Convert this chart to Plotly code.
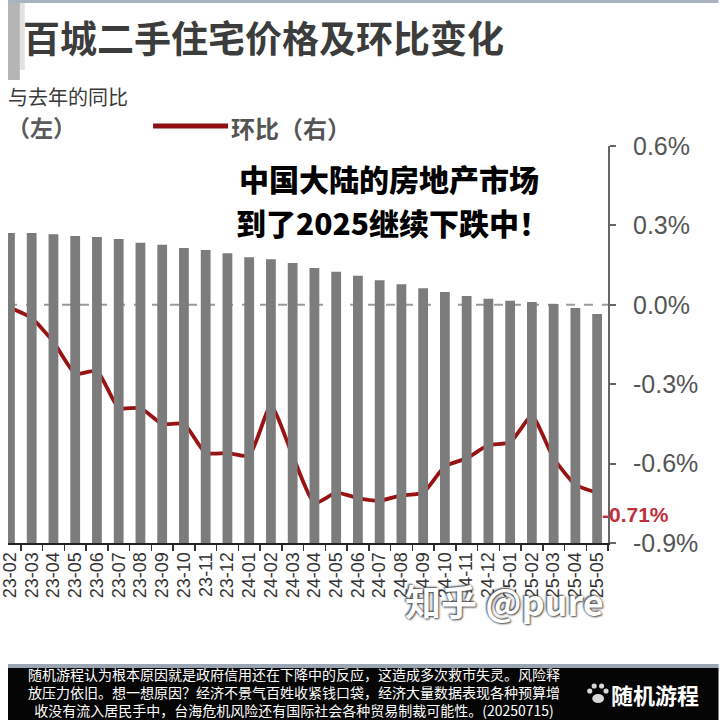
import plotly.graph_objects as go

# ---------------- data ----------------
months = ["23-02", "23-03", "23-04", "23-05", "23-06", "23-07", "23-08", "23-09",
          "23-10", "23-11", "23-12", "24-01", "24-02", "24-03", "24-04", "24-05",
          "24-06", "24-07", "24-08", "24-09", "24-10", "24-11", "24-12", "25-01",
          "25-02", "25-03", "25-04", "25-05"]

# bar series (left axis, axis itself cropped out of the screenshot) - relative level
yoy_left = [7.81, 7.81, 7.78, 7.73, 7.71, 7.66, 7.56, 7.51, 7.43, 7.38, 7.30, 7.20,
            7.15, 7.05, 6.93, 6.83, 6.73, 6.62, 6.52, 6.42, 6.32, 6.22, 6.15, 6.10,
            6.07, 6.02, 5.92, 5.77]

# month-on-month change, % (right axis)
mom_right = [-0.01, -0.05, -0.14, -0.26, -0.25, -0.39, -0.39, -0.45, -0.45, -0.56,
             -0.56, -0.57, -0.38, -0.57, -0.75, -0.71, -0.73, -0.74, -0.72, -0.71,
             -0.61, -0.58, -0.53, -0.52, -0.42, -0.58, -0.68, -0.71]

right_ticks = [-0.9, -0.6, -0.3, 0.0, 0.3, 0.6]
right_tick_text = ["-0.9%", "-0.6%", "-0.3%", "0.0%", "0.3%", "0.6%"]

title_text = "百城二手住宅价格及环比变化"
legend_left_1 = "与去年的同比"
legend_left_2 = "（左）"
legend_right = "环比（右）"
overlay_lines = ["中国大陆的房地产市场", "到了2025继续下跌中！"]
last_label = "-0.71%"
watermark = "知乎 @pure"
footer_lines = [
    "随机游程认为根本原因就是政府信用还在下降中的反应，这造成多次救市失灵。风险释",
    "放压力依旧。想一想原因？经济不景气百姓收紧钱口袋，经济大量数据表现各种预算增",
    "收没有流入居民手中，台海危机风险还有国际社会各种贸易制裁可能性。(20250715)",
]
brand = "随机游程"

# ---------------- layout helpers ----------------
W, H = 720, 720
ML, MR, MT, MB = 0, 112, 146, 177
PW = W - ML - MR
PH = H - MT - MB


def px(x):
    return (x - ML) / PW


def py(y):
    return (H - MB - y) / PH


CJK = "Noto Sans CJK SC"
LAT = "Liberation Sans, Arial, sans-serif"

fig = go.Figure()

fig.add_trace(go.Bar(
    x=months, y=yoy_left, yaxis="y2",
    marker=dict(color="#7c7c7c", line=dict(width=0)),
    name=legend_left_1, showlegend=False, hoverinfo="skip",
))

fig.add_trace(go.Scatter(
    x=months, y=mom_right, yaxis="y",
    mode="lines", line=dict(color="#981313", width=3.8, shape="spline", smoothing=0.5),
    name=legend_right, showlegend=False, hoverinfo="skip",
))

shapes = []
# zero dashed line
shapes.append(dict(type="line", xref="paper", x0=0, x1=1, yref="y", y0=0, y1=0,
                   line=dict(color="#9a9a9a", width=2, dash="dash"), layer="below"))
# top thin frame line
shapes.append(dict(type="rect", xref="paper", yref="paper", x0=px(0), x1=px(720),
                   y0=py(3), y1=py(0), fillcolor="#aab4bf", line=dict(width=0)))
# left gray bar by the title
shapes.append(dict(type="rect", xref="paper", yref="paper", x0=px(0), x1=px(12),
                   y0=py(80), y1=py(3), fillcolor="rgba(120,120,120,0.55)", line=dict(width=0)))
shapes.append(dict(type="rect", xref="paper", yref="paper", x0=px(12), x1=px(17),
                   y0=py(70), y1=py(3), fillcolor="rgba(160,160,160,0.3)", line=dict(width=0)))
# legend red segment
shapes.append(dict(type="line", xref="paper", yref="paper", x0=px(147), x1=px(223),
                   y0=py(126), y1=py(126), line=dict(color="#8e1013", width=5)))
# footer band
shapes.append(dict(type="rect", xref="paper", yref="paper", x0=px(0), x1=px(720),
                   y0=py(668), y1=py(664), fillcolor="#9aa6b4", line=dict(width=0)))
shapes.append(dict(type="rect", xref="paper", yref="paper", x0=px(0), x1=px(720),
                   y0=py(720), y1=py(668), fillcolor="#050505", line=dict(width=0)))
# paw icon
pad_c = (598, 698)
shapes.append(dict(type="circle", xref="paper", yref="paper",
                   x0=px(pad_c[0] - 6), x1=px(pad_c[0] + 6),
                   y0=py(pad_c[1] + 5), y1=py(pad_c[1] - 4),
                   fillcolor="#d8d8d8", line=dict(width=0)))
for tx, ty in [(589.5, 691), (594, 686), (601.5, 686), (606, 691)]:
    shapes.append(dict(type="circle", xref="paper", yref="paper",
                       x0=px(tx - 2.6), x1=px(tx + 2.6), y0=py(ty + 2.6), y1=py(ty - 2.6),
                       fillcolor="#d8d8d8", line=dict(width=0)))

annotations = []


def ann(text, x, y, size, color, family=CJK, weight="normal", xanchor="left",
        shadow=None, align="left"):
    f = dict(family=family, size=size, color=color, weight=weight)
    if shadow:
        f["shadow"] = shadow
    annotations.append(dict(text=text, xref="paper", yref="paper", x=px(x), y=py(y),
                            xanchor=xanchor, yanchor="middle", showarrow=False, font=f,
                            align=align, borderpad=0))


ann(title_text, 14, 37, 37, "#3c3c3c", weight="bold")
ann(legend_left_1, -1, 97, 20, "#3a3a3a")
ann(legend_left_2, -2, 127, 23, "#5a5a5a", weight="bold")
ann(legend_right, 225, 127, 24, "#555555", weight="bold")
ann(overlay_lines[0], 233, 178, 30, "#000000", weight=900)
ann(overlay_lines[1], 230, 222, 30, "#000000", weight=900)
ann(last_label, 636, 514, 21, "#c0303c", family=LAT, weight="bold", xanchor="center")
ann(watermark, 503, 600, 36, "#ffffff", weight="bold", xanchor="center",
    shadow="1px 1px 2px #444, -1px -1px 2px #444")
ann("<br>".join(footer_lines), 290, 692, 14, "#ffffff", xanchor="center", align="center")
ann(brand, 610, 694, 22, "#ffffff", weight="bold")

fig.update_layout(
    width=W, height=H,
    margin=dict(l=ML, r=MR, t=MT, b=MB),
    paper_bgcolor="#ffffff", plot_bgcolor="#ffffff",
    bargap=0.55,
    showlegend=False,
    hovermode=False,
    shapes=shapes,
    annotations=annotations,
    xaxis=dict(
        type="category", range=[-0.09, 27.5],
        tickmode="linear", tick0=0, dtick=1,
        showline=True, linecolor="#222222", linewidth=2,
        ticks="outside", tickson="boundaries", ticklen=6, tickwidth=1.5, tickcolor="#333333",
        tickangle=-90, tickfont=dict(family=LAT, size=18, color="#333333"),
        showgrid=False, zeroline=False,
    ),
    yaxis=dict(
        side="right", range=[-0.9, 0.6],
        tickvals=right_ticks, ticktext=right_tick_text,
        showline=True, linecolor="#666666", linewidth=2,
        ticks="outside", ticklen=6, tickwidth=2, tickcolor="#666666",
        ticklabelstandoff=12,
        tickfont=dict(family=LAT, size=25, color="#555555"),
        showgrid=False, zeroline=False,
    ),
    yaxis2=dict(
        overlaying="y", side="left", range=[0, 10], visible=False,
        showgrid=False, zeroline=False,
    ),
)

fig.write_html(
    "out.html",
    config={"displayModeBar": False, "staticPlot": True},
    post_script="document.body.style.margin='0px';document.body.style.overflow='hidden';",
)
